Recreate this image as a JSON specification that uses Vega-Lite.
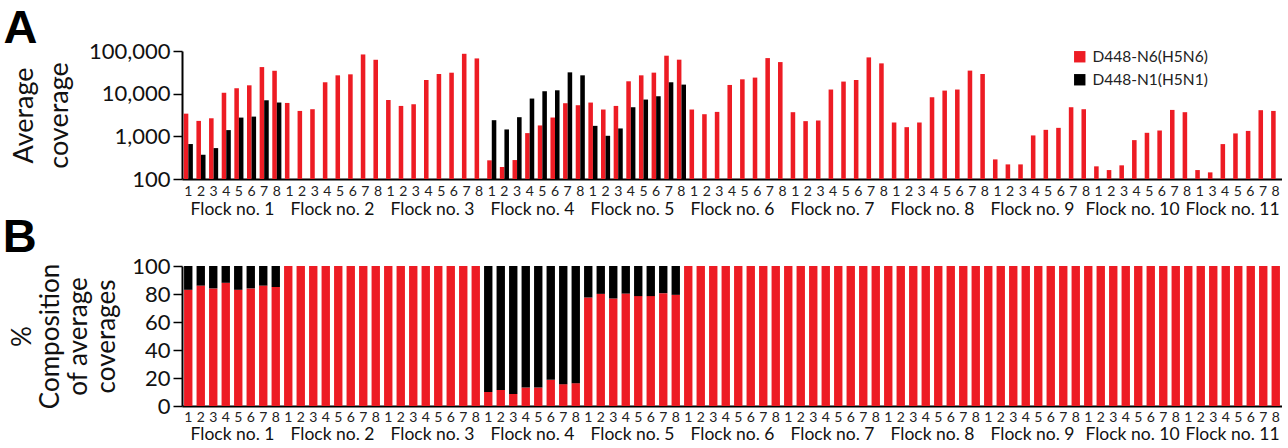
{
  "$schema": "https://vega.github.io/schema/vega-lite/v6.json",
  "background": "white",
  "padding": {"left": 2, "top": 5, "right": 0, "bottom": 0},
  "spacing": -4,
  "config": {
    "font": "Lato",
    "view": {"stroke": null},
    "concat": {"spacing": -4},
    "axis": {"labelFont": "Lato", "titleFont": "Lato", "domainColor": "#000", "domainWidth": 2, "tickColor": "#000", "tickWidth": 1.5, "labelColor": "#222", "titleColor": "#111", "grid": false, "titleFontWeight": "normal"}
  },
  "data": {"values": [
    {"flock":1,"id":"01-1","series":"D448-N6(H5N6)","cov":3400,"pct":83},
    {"flock":1,"id":"01-2","series":"D448-N6(H5N6)","cov":2300,"pct":86},
    {"flock":1,"id":"01-3","series":"D448-N6(H5N6)","cov":2650,"pct":84},
    {"flock":1,"id":"01-4","series":"D448-N6(H5N6)","cov":10500,"pct":88},
    {"flock":1,"id":"01-5","series":"D448-N6(H5N6)","cov":13400,"pct":83},
    {"flock":1,"id":"01-6","series":"D448-N6(H5N6)","cov":15700,"pct":84},
    {"flock":1,"id":"01-7","series":"D448-N6(H5N6)","cov":42000,"pct":86},
    {"flock":1,"id":"01-8","series":"D448-N6(H5N6)","cov":34400,"pct":85},
    {"flock":1,"id":"01-1","series":"D448-N1(H5N1)","cov":660,"pct":17},
    {"flock":1,"id":"01-2","series":"D448-N1(H5N1)","cov":370,"pct":14},
    {"flock":1,"id":"01-3","series":"D448-N1(H5N1)","cov":530,"pct":16},
    {"flock":1,"id":"01-4","series":"D448-N1(H5N1)","cov":1400,"pct":12},
    {"flock":1,"id":"01-5","series":"D448-N1(H5N1)","cov":2750,"pct":17},
    {"flock":1,"id":"01-6","series":"D448-N1(H5N1)","cov":2900,"pct":16},
    {"flock":1,"id":"01-7","series":"D448-N1(H5N1)","cov":7000,"pct":14},
    {"flock":1,"id":"01-8","series":"D448-N1(H5N1)","cov":6200,"pct":15},
    {"flock":2,"id":"02-1","series":"D448-N6(H5N6)","cov":6060,"pct":100},
    {"flock":2,"id":"02-2","series":"D448-N6(H5N6)","cov":3940,"pct":100},
    {"flock":2,"id":"02-3","series":"D448-N6(H5N6)","cov":4320,"pct":100},
    {"flock":2,"id":"02-4","series":"D448-N6(H5N6)","cov":18500,"pct":100},
    {"flock":2,"id":"02-5","series":"D448-N6(H5N6)","cov":26900,"pct":100},
    {"flock":2,"id":"02-6","series":"D448-N6(H5N6)","cov":28400,"pct":100},
    {"flock":2,"id":"02-7","series":"D448-N6(H5N6)","cov":83000,"pct":100},
    {"flock":2,"id":"02-8","series":"D448-N6(H5N6)","cov":62300,"pct":100},
    {"flock":3,"id":"03-1","series":"D448-N6(H5N6)","cov":7100,"pct":100},
    {"flock":3,"id":"03-2","series":"D448-N6(H5N6)","cov":5160,"pct":100},
    {"flock":3,"id":"03-3","series":"D448-N6(H5N6)","cov":5650,"pct":100},
    {"flock":3,"id":"03-4","series":"D448-N6(H5N6)","cov":20900,"pct":100},
    {"flock":3,"id":"03-5","series":"D448-N6(H5N6)","cov":28900,"pct":100},
    {"flock":3,"id":"03-6","series":"D448-N6(H5N6)","cov":31000,"pct":100},
    {"flock":3,"id":"03-7","series":"D448-N6(H5N6)","cov":86000,"pct":100},
    {"flock":3,"id":"03-8","series":"D448-N6(H5N6)","cov":67000,"pct":100},
    {"flock":4,"id":"04-1","series":"D448-N6(H5N6)","cov":274,"pct":10},
    {"flock":4,"id":"04-2","series":"D448-N6(H5N6)","cov":191,"pct":11.5},
    {"flock":4,"id":"04-3","series":"D448-N6(H5N6)","cov":278,"pct":8.6},
    {"flock":4,"id":"04-4","series":"D448-N6(H5N6)","cov":1190,"pct":13.2},
    {"flock":4,"id":"04-5","series":"D448-N6(H5N6)","cov":1800,"pct":13.2},
    {"flock":4,"id":"04-6","series":"D448-N6(H5N6)","cov":2760,"pct":18.7},
    {"flock":4,"id":"04-7","series":"D448-N6(H5N6)","cov":5970,"pct":15.6},
    {"flock":4,"id":"04-8","series":"D448-N6(H5N6)","cov":5360,"pct":16.3},
    {"flock":4,"id":"04-1","series":"D448-N1(H5N1)","cov":2390,"pct":90},
    {"flock":4,"id":"04-2","series":"D448-N1(H5N1)","cov":1450,"pct":88.5},
    {"flock":4,"id":"04-3","series":"D448-N1(H5N1)","cov":2810,"pct":91.4},
    {"flock":4,"id":"04-4","series":"D448-N1(H5N1)","cov":7680,"pct":86.8},
    {"flock":4,"id":"04-5","series":"D448-N1(H5N1)","cov":11400,"pct":86.8},
    {"flock":4,"id":"04-6","series":"D448-N1(H5N1)","cov":12000,"pct":81.3},
    {"flock":4,"id":"04-7","series":"D448-N1(H5N1)","cov":31600,"pct":84.4},
    {"flock":4,"id":"04-8","series":"D448-N1(H5N1)","cov":26900,"pct":83.7},
    {"flock":5,"id":"05-1","series":"D448-N6(H5N6)","cov":6190,"pct":77.5},
    {"flock":5,"id":"05-2","series":"D448-N6(H5N6)","cov":4250,"pct":80.1},
    {"flock":5,"id":"05-3","series":"D448-N6(H5N6)","cov":5160,"pct":76.8},
    {"flock":5,"id":"05-4","series":"D448-N6(H5N6)","cov":19500,"pct":80.3},
    {"flock":5,"id":"05-5","series":"D448-N6(H5N6)","cov":26900,"pct":78.5},
    {"flock":5,"id":"05-6","series":"D448-N6(H5N6)","cov":31100,"pct":78.5},
    {"flock":5,"id":"05-7","series":"D448-N6(H5N6)","cov":77600,"pct":80.6},
    {"flock":5,"id":"05-8","series":"D448-N6(H5N6)","cov":62600,"pct":79.4},
    {"flock":5,"id":"05-1","series":"D448-N1(H5N1)","cov":1760,"pct":22.5},
    {"flock":5,"id":"05-2","series":"D448-N1(H5N1)","cov":1030,"pct":19.9},
    {"flock":5,"id":"05-3","series":"D448-N1(H5N1)","cov":1530,"pct":23.2},
    {"flock":5,"id":"05-4","series":"D448-N1(H5N1)","cov":4810,"pct":19.7},
    {"flock":5,"id":"05-5","series":"D448-N1(H5N1)","cov":7280,"pct":21.5},
    {"flock":5,"id":"05-6","series":"D448-N1(H5N1)","cov":8700,"pct":21.5},
    {"flock":5,"id":"05-7","series":"D448-N1(H5N1)","cov":18500,"pct":19.4},
    {"flock":5,"id":"05-8","series":"D448-N1(H5N1)","cov":16300,"pct":20.6},
    {"flock":6,"id":"06-1","series":"D448-N6(H5N6)","cov":4250,"pct":100},
    {"flock":6,"id":"06-2","series":"D448-N6(H5N6)","cov":3300,"pct":100},
    {"flock":6,"id":"06-3","series":"D448-N6(H5N6)","cov":3740,"pct":100},
    {"flock":6,"id":"06-4","series":"D448-N6(H5N6)","cov":16000,"pct":100},
    {"flock":6,"id":"06-5","series":"D448-N6(H5N6)","cov":21700,"pct":100},
    {"flock":6,"id":"06-6","series":"D448-N6(H5N6)","cov":23800,"pct":100},
    {"flock":6,"id":"06-7","series":"D448-N6(H5N6)","cov":68200,"pct":100},
    {"flock":6,"id":"06-8","series":"D448-N6(H5N6)","cov":55000,"pct":100},
    {"flock":7,"id":"07-1","series":"D448-N6(H5N6)","cov":3680,"pct":100},
    {"flock":7,"id":"07-2","series":"D448-N6(H5N6)","cov":2270,"pct":100},
    {"flock":7,"id":"07-3","series":"D448-N6(H5N6)","cov":2350,"pct":100},
    {"flock":7,"id":"07-4","series":"D448-N6(H5N6)","cov":12500,"pct":100},
    {"flock":7,"id":"07-5","series":"D448-N6(H5N6)","cov":19200,"pct":100},
    {"flock":7,"id":"07-6","series":"D448-N6(H5N6)","cov":20900,"pct":100},
    {"flock":7,"id":"07-7","series":"D448-N6(H5N6)","cov":70800,"pct":100},
    {"flock":7,"id":"07-8","series":"D448-N6(H5N6)","cov":51300,"pct":100},
    {"flock":8,"id":"08-1","series":"D448-N6(H5N6)","cov":2110,"pct":100},
    {"flock":8,"id":"08-2","series":"D448-N6(H5N6)","cov":1640,"pct":100},
    {"flock":8,"id":"08-3","series":"D448-N6(H5N6)","cov":2110,"pct":100},
    {"flock":8,"id":"08-4","series":"D448-N6(H5N6)","cov":8240,"pct":100},
    {"flock":8,"id":"08-5","series":"D448-N6(H5N6)","cov":11800,"pct":100},
    {"flock":8,"id":"08-6","series":"D448-N6(H5N6)","cov":12500,"pct":100},
    {"flock":8,"id":"08-7","series":"D448-N6(H5N6)","cov":34700,"pct":100},
    {"flock":8,"id":"08-8","series":"D448-N6(H5N6)","cov":28900,"pct":100},
    {"flock":9,"id":"09-1","series":"D448-N6(H5N6)","cov":288,"pct":100},
    {"flock":9,"id":"09-2","series":"D448-N6(H5N6)","cov":220,"pct":100},
    {"flock":9,"id":"09-3","series":"D448-N6(H5N6)","cov":220,"pct":100},
    {"flock":9,"id":"09-4","series":"D448-N6(H5N6)","cov":1050,"pct":100},
    {"flock":9,"id":"09-5","series":"D448-N6(H5N6)","cov":1420,"pct":100},
    {"flock":9,"id":"09-6","series":"D448-N6(H5N6)","cov":1580,"pct":100},
    {"flock":9,"id":"09-7","series":"D448-N6(H5N6)","cov":4810,"pct":100},
    {"flock":9,"id":"09-8","series":"D448-N6(H5N6)","cov":4320,"pct":100},
    {"flock":10,"id":"10-1","series":"D448-N6(H5N6)","cov":198,"pct":100},
    {"flock":10,"id":"10-2","series":"D448-N6(H5N6)","cov":162,"pct":100},
    {"flock":10,"id":"10-3","series":"D448-N6(H5N6)","cov":209,"pct":100},
    {"flock":10,"id":"10-4","series":"D448-N6(H5N6)","cov":815,"pct":100},
    {"flock":10,"id":"10-5","series":"D448-N6(H5N6)","cov":1210,"pct":100},
    {"flock":10,"id":"10-6","series":"D448-N6(H5N6)","cov":1370,"pct":100},
    {"flock":10,"id":"10-7","series":"D448-N6(H5N6)","cov":4160,"pct":100},
    {"flock":10,"id":"10-8","series":"D448-N6(H5N6)","cov":3680,"pct":100},
    {"flock":11,"id":"11-1","series":"D448-N6(H5N6)","cov":162,"pct":100},
    {"flock":11,"id":"11-2","series":"D448-N6(H5N6)","cov":null,"pct":100},
    {"flock":11,"id":"11-3","series":"D448-N6(H5N6)","cov":143,"pct":100},
    {"flock":11,"id":"11-4","series":"D448-N6(H5N6)","cov":658,"pct":100},
    {"flock":11,"id":"11-5","series":"D448-N6(H5N6)","cov":1170,"pct":100},
    {"flock":11,"id":"11-6","series":"D448-N6(H5N6)","cov":1340,"pct":100},
    {"flock":11,"id":"11-7","series":"D448-N6(H5N6)","cov":4100,"pct":100},
    {"flock":11,"id":"11-8","series":"D448-N6(H5N6)","cov":3940,"pct":100}
  ]},
  "vconcat": [
    {
      "title": {"text": "A", "anchor": "start", "frame": "bounds", "font": "Liberation Sans", "fontSize": 47, "fontWeight": "bold", "color": "#000", "offset": -13, "dx": -7},
      "width": 1100,
      "height": 128,
      "layer": [
        {
          "mark": {"type": "bar"},
          "encoding": {
            "x": {"field": "id", "type": "ordinal", "scale": {"paddingInner": 0.28, "paddingOuter": 0.14},
                  "axis": {"title": null, "labelExpr": "substring(datum.label, 3)", "labelAngle": 0, "ticks": false, "labelFontSize": 14, "labelPadding": 5}},
            "xOffset": {"field": "series", "scale": {"domain": ["D448-N6(H5N6)", "D448-N1(H5N1)"], "paddingInner": 0}},
            "y": {"field": "cov", "type": "quantitative", "scale": {"type": "log", "domain": [100, 100000], "nice": false},
                  "axis": {"values": [100, 1000, 10000, 100000], "format": ",", "title": ["Average", "coverage"], "labelFontSize": 22, "labelColor": "#111", "tickSize": 9, "labelPadding": 3, "titleFontSize": 27, "titleLineHeight": 35, "titlePadding": 15}},
            "y2": {"datum": 100},
            "color": {"field": "series", "type": "nominal",
                      "scale": {"domain": ["D448-N6(H5N6)", "D448-N1(H5N1)"], "range": ["#ED1C24", "#000000"]},
                      "legend": {"title": null, "orient": "none", "legendX": 890, "legendY": -2, "symbolType": "square", "symbolSize": 130, "symbolStrokeWidth": 0, "labelFontSize": 15.5, "labelFont": "Lato", "labelColor": "#222", "rowPadding": 6, "labelOffset": 5}}
          }
        },
        {
          "mark": {"type": "point", "opacity": 0},
          "encoding": {
            "x": {"field": "flock", "type": "ordinal", "scale": {"paddingInner": 0, "paddingOuter": 0},
                  "axis": {"orient": "bottom", "title": null, "domain": false, "ticks": false, "labelAngle": 0, "labelExpr": "'Flock no. ' + datum.label", "labelFontSize": 17.5, "labelColor": "#111", "labelPadding": 21}}
          }
        }
      ],
      "resolve": {"scale": {"x": "independent"}}
    },
    {
      "title": {"text": "B", "anchor": "start", "frame": "bounds", "font": "Liberation Sans", "fontSize": 47, "fontWeight": "bold", "color": "#000", "offset": -7, "dx": -7},
      "width": 1100,
      "height": 140,
      "layer": [
        {
          "mark": {"type": "bar"},
          "encoding": {
            "x": {"field": "id", "type": "ordinal", "scale": {"paddingInner": 0.33, "paddingOuter": 0.165},
                  "axis": {"title": null, "labelExpr": "substring(datum.label, 3)", "labelAngle": 0, "ticks": false, "labelFontSize": 14, "labelPadding": 4}},
            "y": {"field": "pct", "type": "quantitative", "stack": "zero", "scale": {"domain": [0, 100], "nice": false},
                  "axis": {"values": [0, 20, 40, 60, 80, 100], "title": ["%", "Composition", "of average", "coverages"], "labelFontSize": 22, "labelColor": "#111", "tickSize": 9, "labelPadding": 3, "titleFontSize": 26, "titleLineHeight": 28, "titlePadding": 12}},
            "color": {"field": "series", "type": "nominal",
                      "scale": {"domain": ["D448-N6(H5N6)", "D448-N1(H5N1)"], "range": ["#ED1C24", "#000000"]},
                      "legend": null},
            "order": {"field": "series", "sort": "descending"}
          }
        },
        {
          "mark": {"type": "point", "opacity": 0},
          "encoding": {
            "x": {"field": "flock", "type": "ordinal", "scale": {"paddingInner": 0, "paddingOuter": 0},
                  "axis": {"orient": "bottom", "title": null, "domain": false, "ticks": false, "labelAngle": 0, "labelExpr": "'Flock no. ' + datum.label", "labelFontSize": 17.5, "labelColor": "#111", "labelPadding": 19}}
          }
        }
      ],
      "resolve": {"scale": {"x": "independent"}}
    }
  ],
  "resolve": {"scale": {"color": "independent"}}
}
